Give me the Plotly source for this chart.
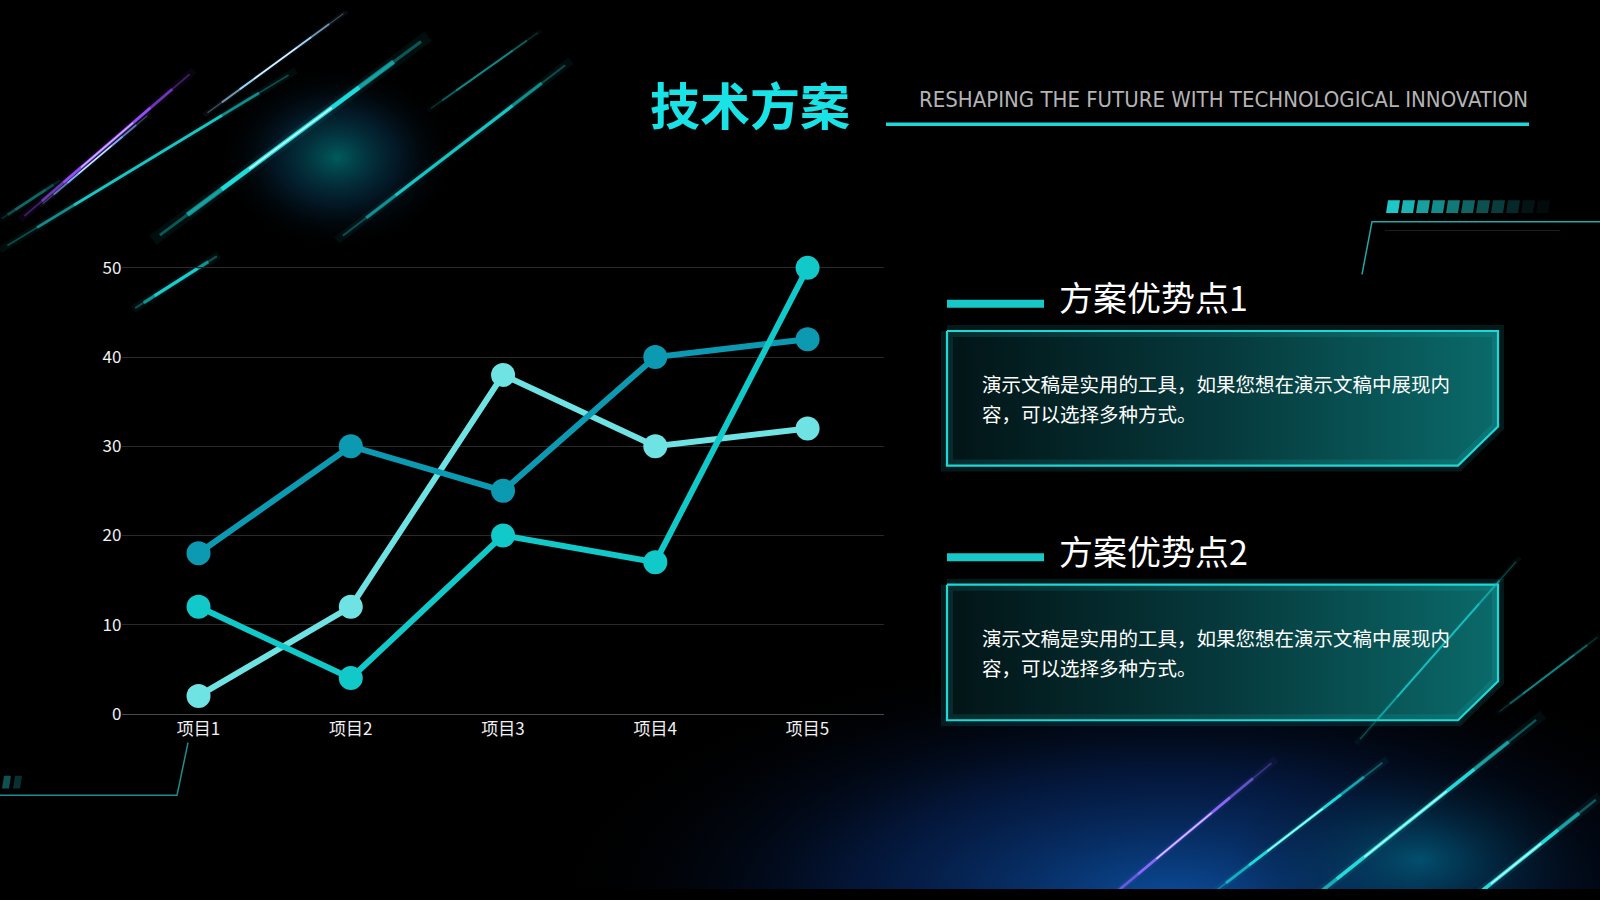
import numpy as np
import plotly.graph_objects as go

# Chart data
categories = ["项目1", "项目2", "项目3", "项目4", "项目5"]
series_a = [18, 30, 25, 40, 42]   # deep teal
series_b = [2, 12, 38, 30, 32]    # pale cyan
series_c = [12, 4, 20, 17, 50]    # bright cyan
y_ticks = [0, 10, 20, 30, 40, 50]

title_text = "技术方案"
subtitle_text = "RESHAPING THE FUTURE WITH TECHNOLOGICAL INNOVATION"
point_titles = ["方案优势点1", "方案优势点2"]
point_lines = ["演示文稿是实用的工具，如果您想在演示文稿中展现内", "容，可以选择多种方式。"]

W, H = 1600, 900
CJK = "Noto Sans CJK SC"
CYAN = "#1ED8D8"


def deco(fig, x, y, **kw):
    """Decoration trace drawn on the full-page pixel axes (x / y)."""
    fig.add_trace(go.Scatter(x=list(x), y=list(y), xaxis="x", yaxis="y",
                             hoverinfo="skip", showlegend=False, **kw))


def glow(fig, cx, cy, rx, ry, colorscale):
    t = np.linspace(0, 2 * np.pi, 73)
    deco(fig, cx + rx * np.cos(t), cy + ry * np.sin(t), mode="none", fill="toself",
         fillgradient=dict(type="radial", colorscale=colorscale))


def streak(fig, x0, y0, x1, y1, color, width=3, core=None):
    """Light streak: stacked segments, shorter ones brighter, to fake a taper."""
    mx, my = (x0 + x1) / 2, (y0 + y1) / 2
    hx, hy = (x1 - x0) / 2, (y1 - y0) / 2
    layers = [(1.0, width * 2.4, 0.06), (0.95, width * 0.6, 0.35),
              (0.75, width, 0.55), (0.5, width * 0.85, 0.95)]
    for frac, w, op in layers:
        deco(fig, [mx - hx * frac, mx + hx * frac], [my - hy * frac, my + hy * frac],
             mode="lines", line=dict(color=color, width=w), opacity=op)
    if core:
        deco(fig, [mx - hx * 0.3, mx + hx * 0.3], [my - hy * 0.3, my + hy * 0.3],
             mode="lines", line=dict(color=core, width=max(1, width * 0.4)), opacity=0.9)


def panel(fig, x0, y0, x1, y1, cut):
    xs = [x0, x1, x1, x1 - cut, x0, x0]
    ys = [y0, y0, y1 - cut, y1, y1, y0]
    deco(fig, xs, ys, mode="none", fill="toself",
         fillgradient=dict(type="horizontal",
                           colorscale=[[0, "#021416"], [0.5, "#06393c"], [1, "#0b6a6a"]]))
    deco(fig, xs, ys, mode="lines", line=dict(color="rgba(30,216,216,0.12)", width=12))
    deco(fig, xs, ys, mode="lines", line=dict(color=CYAN, width=2.2))


def add_glows(fig):
    glow(fig, 337, 150, 120, 95, [[0, "rgba(0,140,140,0.65)"], [0.5, "rgba(10,70,110,0.35)"],
                                  [1, "rgba(0,0,0,0)"]])
    glow(fig, 1170, 910, 620, 260, [[0, "rgba(12,85,170,0.9)"], [0.5, "rgba(8,45,115,0.5)"],
                                    [1, "rgba(0,0,0,0)"]])
    glow(fig, 1420, 870, 190, 110, [[0, "rgba(0,130,150,0.5)"], [1, "rgba(0,0,0,0)"]])


def add_streaks_top(fig):
    streak(fig, 20, 214, 194, 61, "#9b4dff", 3, core="#d9c8ff")
    streak(fig, 40, 200, 150, 105, "#7fb0ff", 2, core="#ffffff")
    streak(fig, 0, 245, 296, 61, "#19c9c9", 3)
    streak(fig, 204, 107, 347, 0, "#a0d8ff", 2, core="#ffffff")
    streak(fig, 153, 235, 428, 26, "#1de0e0", 5, core="#c8ffff")
    streak(fig, 337, 235, 571, 51, "#17c8c8", 3.5)
    streak(fig, 428, 102, 541, 20, "#128a8a", 2)
    streak(fig, 133, 306, 219, 250, "#19d0d0", 3.5)
    streak(fig, 0, 214, 61, 173, "#106a6a", 3)


def add_streaks_bottom(fig):
    streak(fig, 1092, 924, 1276, 767, "#8a6aff", 3, core="#e8e0ff")
    streak(fig, 1203, 912, 1387, 767, "#1de0e0", 3, core="#d0ffff")
    streak(fig, 1268, 946, 1543, 721, "#22dede", 4, core="#c8ffff")
    streak(fig, 1356, 751, 1520, 560, "#19c0c0", 2)
    streak(fig, 1432, 943, 1600, 805, "#22e0e0", 4, core="#c8ffff")
    streak(fig, 1497, 720, 1600, 640, "#128a8a", 2)


def add_frames(fig):
    # top-right dash strip and bracket
    for i in range(11):
        x0 = 1386 + 15 * i
        a = max(0.05, 1 - i / 10)
        deco(fig, [x0 + 2, x0 + 14, x0 + 12, x0, x0 + 2], [194, 194, 207, 207, 194],
             mode="none", fill="toself", fillcolor=f"rgba(30,200,200,{a:.2f})")
    deco(fig, [1362, 1372, 1600], [270, 216, 216], mode="lines",
         line=dict(color="#22a8a8", width=1.5))
    deco(fig, [1385, 1560], [225, 225], mode="lines",
         line=dict(color="rgba(40,90,90,0.4)", width=1))

    # bottom-left bracket
    deco(fig, [0, 177, 188], [804, 804, 750], mode="lines",
         line=dict(color="#1a8f8f", width=1.5))
    for i in range(2):
        x0 = 2 + 11 * i
        deco(fig, [x0 + 2, x0 + 9, x0 + 7, x0, x0 + 2], [784, 784, 797, 797, 784],
             mode="none", fill="toself", fillcolor=f"rgba(30,160,160,{0.5 - 0.2 * i:.2f})")


def add_header(fig, annotations):
    annotations.append(dict(x=750, y=94, xref="x", yref="y", text=f"<b>{title_text}</b>",
                            showarrow=False, xanchor="center", yanchor="middle",
                            font=dict(family=CJK, size=50, color="#19E3E6")))
    annotations.append(dict(x=1530, y=91, xref="x", yref="y", text=subtitle_text,
                            showarrow=False, xanchor="right", yanchor="middle",
                            font=dict(family="Liberation Sans Narrow, DejaVu Sans Condensed, sans-serif",
                                      size=22, color="#B4B4B4")))
    deco(fig, [886, 1529], [116, 116], mode="lines", line=dict(color=CYAN, width=3.5))


def add_points(fig, annotations):
    for k, (bar_y, box_y0, box_y1, text_y) in enumerate([(300, 328, 466, 382), (560, 588, 727, 642)]):
        deco(fig, [947, 1044], [bar_y, bar_y], mode="lines", line=dict(color="#17C8C8", width=8))
        annotations.append(dict(x=1057, y=bar_y - 7, xref="x", yref="y", text=point_titles[k],
                                showarrow=False, xanchor="left", yanchor="middle",
                                font=dict(family=CJK, size=34, color="#FFFFFF")))
        panel(fig, 947, box_y0, 1498, box_y1, 40)
        for j, line in enumerate(point_lines):
            annotations.append(dict(x=980, y=text_y + 30.5 * j, xref="x", yref="y", text=line,
                                    showarrow=False, xanchor="left", yanchor="middle",
                                    font=dict(family=CJK, size=19.5, color="#FFFFFF")))


def add_chart(fig):
    styles = [
        (series_b, "#6FE3E3"),
        (series_a, "#0C9AB3"),
        (series_c, "#12C9C9"),
    ]
    for values, color in styles:
        fig.add_trace(go.Scatter(
            x=categories, y=values, xaxis="x2", yaxis="y2",
            mode="lines+markers", showlegend=False, cliponaxis=False,
            line=dict(color=color, width=6),
            marker=dict(color=color, size=24),
        ))


fig = go.Figure()
annotations = []
add_glows(fig)
add_streaks_top(fig)
add_frames(fig)
add_header(fig, annotations)
add_points(fig, annotations)
add_streaks_bottom(fig)
add_chart(fig)

# the top gridline (50) would sit on the plot edge and get dropped, so pad the range a bit
y_top = 50.3
px_per_unit = (720.4 - 263.3) / 50

fig.update_layout(
    width=W, height=H,
    margin=dict(l=0, r=0, t=0, b=0),
    paper_bgcolor="#000000",
    plot_bgcolor="rgba(0,0,0,0)",
    annotations=annotations,
    # page-sized pixel axes for decoration
    xaxis=dict(domain=[0, 1], range=[0, W], visible=False, fixedrange=True),
    yaxis=dict(domain=[0, 1], range=[H, 0], visible=False, fixedrange=True),
    # chart axes
    xaxis2=dict(domain=[122.4 / W, 883.7 / W], anchor="y2", type="category",
                range=[-0.5, 4.5], showgrid=False, showline=True, linecolor="#4a4a4a",
                linewidth=1.2, ticks="", zeroline=False,
                tickfont=dict(family=CJK, size=17, color="#F0F0F0")),
    yaxis2=dict(domain=[1 - 720.4 / H, 1 - (263.3 - (y_top - 50) * px_per_unit) / H],
                anchor="x2", range=[0, y_top],
                tickvals=y_ticks, showgrid=True, gridcolor="#2a2a2a", gridwidth=1,
                zeroline=False, showline=False, ticks="",
                tickfont=dict(family=CJK, size=17, color="#F0F0F0")),
)

fig.write_html(
    "out.html",
    config={"displayModeBar": False},
    post_script=("document.body.style.margin='0';"
                 "document.body.style.background='#000';"
                 "document.body.style.overflow='hidden';"),
)
